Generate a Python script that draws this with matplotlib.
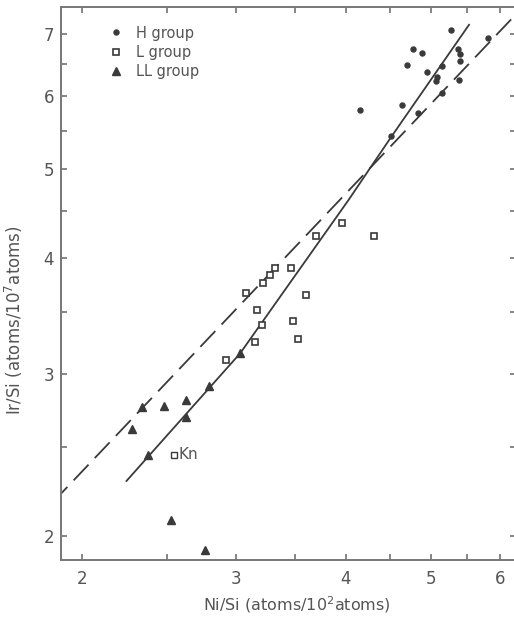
import matplotlib
matplotlib.use("Agg")
import matplotlib.pyplot as plt
from matplotlib.ticker import FixedLocator, NullFormatter

# Ni/Si and Ir/Si for the chondrite groups
h_ni = [5.28, 5.81, 4.78, 4.89, 5.37, 5.40, 4.70, 5.15, 5.40, 4.95, 5.09, 5.07, 5.39, 5.15, 4.64, 4.84, 4.51, 4.15]
h_ir = [7.08, 6.94, 6.74, 6.67, 6.74, 6.66, 6.48, 6.47, 6.54, 6.37, 6.29, 6.22, 6.24, 6.04, 5.86, 5.75, 5.43, 5.79]

l_ni = [3.96, 4.31, 3.70, 3.32, 3.46, 3.28, 3.22, 3.08, 3.60, 3.17, 3.21, 3.48, 3.15, 3.53, 2.92]
l_ir = [4.37, 4.23, 4.23, 3.90, 3.90, 3.84, 3.76, 3.67, 3.65, 3.52, 3.39, 3.42, 3.25, 3.27, 3.10]

ll_ni = [3.03, 2.79, 2.34, 2.48, 2.63, 2.63, 2.28, 2.38, 2.53, 2.76]
ll_ir = [3.16, 2.91, 2.76, 2.77, 2.81, 2.69, 2.61, 2.45, 2.08, 1.93]

kn_ni, kn_ir = 2.55, 2.45

# regression lines
solid_ni = [2.244, 3.03, 4.03, 4.51, 5.54]
solid_ir = [2.291, 3.155, 4.627, 5.418, 7.178]
dash_ni = [1.85, 6.2]
dash_ir = [2.174, 7.285]

x_major = [2, 3, 4, 5, 6]
x_minor = [2.5, 3.5, 4.5, 5.5]
y_major = [2, 3, 4, 5, 6, 7]
y_minor = [2.5, 3.5, 4.5, 5.5, 6.5]

ink = "#3a3a3a"
txt = "#555555"

fig = plt.figure(figsize=(5.14, 6.33), dpi=100)
ax = fig.add_axes([61 / 514, 73 / 633, 455 / 514, 553 / 633])
ax.set_xscale("log")
ax.set_yscale("log")
ax.set_xlim(1.892, 6.26)
ax.set_ylim(1.884, 7.49)

ax.plot(solid_ni, solid_ir, color=ink, lw=1.3, solid_capstyle="butt")
ax.plot(dash_ni, dash_ir, color=ink, lw=1.3, dashes=(12, 5))

ax.plot(h_ni, h_ir, "o", ms=3.6, color=ink, label="H group")
ax.plot(l_ni, l_ir, "s", ms=5, mfc="white", mec=ink, mew=1.2, label="L group")
ax.plot(ll_ni, ll_ir, "^", ms=6, color=ink, label="LL group")

ax.plot([kn_ni], [kn_ir], "s", ms=3.8, mfc="white", mec=ink, mew=1.0)
ax.annotate("Kn", xy=(kn_ni, kn_ir), xytext=(3, 0), textcoords="offset points",
            va="center", ha="left", fontsize=11, color=txt)

ax.xaxis.set_major_locator(FixedLocator(x_major))
ax.xaxis.set_minor_locator(FixedLocator(x_minor))
ax.yaxis.set_major_locator(FixedLocator(y_major))
ax.yaxis.set_minor_locator(FixedLocator(y_minor))
ax.set_xticklabels([str(v) for v in x_major])
ax.set_yticklabels([str(v) for v in y_major])
ax.xaxis.set_minor_formatter(NullFormatter())
ax.yaxis.set_minor_formatter(NullFormatter())

ax.tick_params(which="both", direction="in", length=4.5, width=1.1, color="#666666",
               top=True, right=True, labelsize=12, labelcolor=txt)
ax.tick_params(axis="x", pad=7)
ax.tick_params(axis="y", pad=5)
for sp in ax.spines.values():
    sp.set_color("#777777")
    sp.set_linewidth(1.4)

leg = ax.legend(loc="upper left", bbox_to_anchor=(0.092, 0.977), frameon=False,
                handlelength=1.0, handletextpad=0.9, labelspacing=0.3,
                fontsize=10.5, labelcolor=txt, borderaxespad=0)

fig.text(297 / 514, 1 - 605 / 633, "Ni/Si (atoms/10$^{2}$atoms)", ha="center", va="center",
         fontsize=11.5, color=txt)
fig.text(14 / 514, 1 - 320 / 633, "Ir/Si (atoms/10$^{7}$atoms)", ha="center", va="center",
         rotation=90, fontsize=12, color=txt)

fig.savefig("out.png", dpi=100)
